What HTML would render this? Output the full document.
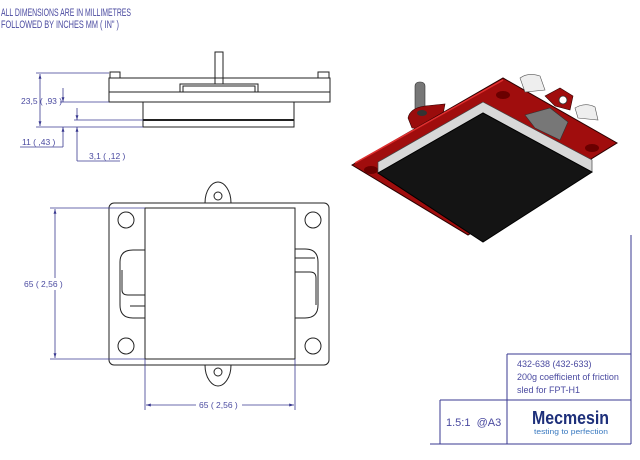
<!DOCTYPE html>
<html><head><meta charset="utf-8"><style>
html,body{margin:0;padding:0;background:#fff;width:640px;height:460px;overflow:hidden}
svg{display:block}
text{font-family:"Liberation Sans Narrow","Liberation Sans",sans-serif;fill:#4a4aa0}
</style></head><body>
<svg width="640" height="460" viewBox="0 0 640 460" xmlns="http://www.w3.org/2000/svg">
<defs>
<marker id="a" viewBox="0 0 10 10" refX="10" refY="5" markerWidth="6" markerHeight="6" orient="auto-start-reverse"><path d="M0,2 L10,5 L0,8z" fill="#3a3a90"/></marker>
</defs>
<text x="1" y="16" font-size="11" textLength="130" lengthAdjust="spacingAndGlyphs">ALL DIMENSIONS ARE IN MILLIMETRES</text>
<text x="1" y="28" font-size="11" textLength="118" lengthAdjust="spacingAndGlyphs">FOLLOWED BY INCHES MM ( IN" )</text>

<!-- side view -->
<g fill="none" stroke="#222" stroke-width="1">
<rect x="109" y="78" width="221" height="24"/>
<line x1="109" y1="92" x2="330" y2="92"/>
<rect x="110" y="72" width="10" height="6"/>
<rect x="318" y="72" width="11" height="6"/>
<rect x="215" y="52" width="8" height="32"/>
<rect x="180" y="84" width="78" height="8"/>
<rect x="183" y="86" width="72" height="6"/>
<rect x="143" y="102" width="151" height="25"/>
<line x1="143" y1="120" x2="294" y2="120" stroke-width="2"/>
</g>
<g stroke="#3a3a90" stroke-width="0.8" fill="none">
<line x1="36" y1="73" x2="109" y2="73"/>
<line x1="36" y1="127" x2="143" y2="127"/>
<line x1="60" y1="102" x2="109" y2="102"/>
<line x1="74" y1="120" x2="143" y2="120"/>
<line x1="40" y1="74" x2="40" y2="126" marker-start="url(#a)" marker-end="url(#a)"/>
<line x1="63" y1="88" x2="63" y2="102" marker-end="url(#a)"/>
<line x1="63" y1="127" x2="63" y2="147" marker-start="url(#a)"/>
<line x1="20" y1="147" x2="63" y2="147"/>
<line x1="77" y1="108" x2="77" y2="120" marker-end="url(#a)"/>
<line x1="77" y1="127" x2="77" y2="161" marker-start="url(#a)"/>
<line x1="77" y1="161" x2="120" y2="161"/>
</g>
<text x="21" y="104" font-size="8.5" fill="#4a4aa0">23,5 ( ,93 )</text>
<text x="22" y="145" font-size="8.5">11 ( ,43 )</text>
<text x="89" y="159" font-size="8.5">3,1 ( ,12 )</text>

<!-- top view -->
<g fill="none" stroke="#222" stroke-width="1">
<path d="M205,203 C205,190 212,182 218,182 C224,182 231,190 231,203"/>
<circle cx="218" cy="196" r="4"/>
<path d="M205,365 C205,378 212,386 218,386 C224,386 231,378 231,365"/>
<circle cx="218" cy="372" r="4"/>
<rect x="109" y="203" width="220" height="162" rx="5"/>
<rect x="145" y="208" width="150" height="151" fill="#fff"/>
<circle cx="126" cy="220" r="8"/><circle cx="313" cy="220" r="8"/>
<circle cx="126" cy="346" r="8"/><circle cx="313" cy="346" r="8"/>
<path d="M145,250 L133,250 Q120,250 120,262 L120,305 Q120,318 133,318 L145,318"/>
<path d="M145,295 L128,295 Q122,295 122,290 L122,270"/>
<path d="M145,306 L130,306"/>
<path d="M295,249 L305,249 Q318,249 318,262 L318,305 Q318,318 305,318 L295,318"/>
<path d="M295,272 L310,272 Q316,272 316,278 L316,305"/>
<path d="M295,258 L315,258"/>
</g>
<g stroke="#3a3a90" stroke-width="0.8" fill="none">
<line x1="50" y1="208" x2="145" y2="208"/>
<line x1="50" y1="359" x2="145" y2="359"/>
<line x1="55" y1="209" x2="55" y2="358" marker-start="url(#a)" marker-end="url(#a)"/>
<line x1="145" y1="359" x2="145" y2="410"/>
<line x1="295" y1="359" x2="295" y2="410"/>
<line x1="146" y1="405" x2="294" y2="405" marker-start="url(#a)" marker-end="url(#a)"/>
</g>
<rect x="196" y="398" width="46" height="12" fill="#fff"/>
<rect x="30" y="278" width="46" height="12" fill="#fff"/>
<text x="24" y="287" font-size="8.5">65 ( 2,56 )</text>
<text x="199" y="408" font-size="8.5">65 ( 2,56 )</text>

<!-- 3D view -->
<g>
<rect x="415" y="82" width="10" height="34" rx="4" fill="#777" stroke="#333" stroke-width="0.6"/>
<path d="M408,118 Q410,108 425,106 L445,104 L440,130 L412,128z" fill="#9a0c0c" stroke="#300" stroke-width="0.6"/>
<path d="M352,165 L503,78 L617,143 L468,235z" fill="#a00d0d" stroke="#2a0000" stroke-width="1"/>
<path d="M355,163 L503,80" stroke="#e03030" stroke-width="1.5" fill="none"/>
<path d="M520,78 Q528,72 540,76 L545,90 L525,92z" fill="#eee" stroke="#555" stroke-width="0.6"/>
<path d="M575,108 Q585,102 595,107 L598,120 L578,118z" fill="#eee" stroke="#555" stroke-width="0.6"/>
<path d="M545,96 L560,88 L573,96 L570,110 L555,106z" fill="#a00d0d" stroke="#300" stroke-width="0.6"/>
<circle cx="563" cy="100" r="4" fill="#fff" stroke="#333" stroke-width="0.8"/>
<path d="M525,115 L550,108 L568,122 L560,140 L535,128z" fill="#777" stroke="#333" stroke-width="0.6"/>
<ellipse cx="503" cy="95" rx="7" ry="4" fill="#6a0000"/>
<ellipse cx="592" cy="148" rx="7" ry="4" fill="#6a0000"/>
<ellipse cx="371" cy="170" rx="7" ry="4" fill="#6a0000"/>
<ellipse cx="422" cy="113" rx="5" ry="3" fill="#333"/>
<path d="M378,162 L483,102 L592,160 L592,172 L483,113 L378,173z" fill="#d8d8d8" stroke="#444" stroke-width="0.7"/>
<path d="M378,173 L483,113 L592,172 L483,242z" fill="#141414" stroke="#000" stroke-width="1"/>
</g>

<!-- title block -->
<g stroke="#3a3a90" stroke-width="1" fill="none">
<line x1="631" y1="235" x2="631" y2="444"/>
<line x1="507" y1="354" x2="631" y2="354"/>
<line x1="507" y1="354" x2="507" y2="444"/>
<line x1="440" y1="400" x2="631" y2="400"/>
<line x1="440" y1="400" x2="440" y2="444"/>
<line x1="430" y1="444" x2="631" y2="444"/>
</g>
<text x="517" y="367" font-size="9">432-638 (432-633)</text>
<text x="517" y="380" font-size="9">200g coefficient of friction</text>
<text x="517" y="393" font-size="9">sled for FPT-H1</text>
<text x="446" y="426" font-size="11">1.5:1&#160; @A3</text>
<text x="532" y="424" font-size="18" font-weight="bold" style="fill:#1d2f7a" textLength="77" lengthAdjust="spacingAndGlyphs">Mecmesin</text>
<text x="534" y="434" font-size="7.5" style="fill:#3a7ac0" textLength="74" lengthAdjust="spacingAndGlyphs">testing to perfection</text>
</svg>
</body></html>
